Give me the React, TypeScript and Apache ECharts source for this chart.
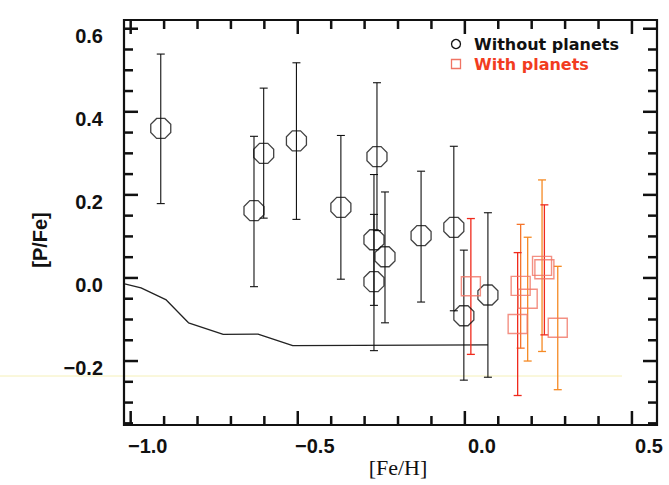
import React, { useEffect, useRef } from "react";
import * as echarts from "echarts";

// Stars without known planets
const noPlanetFeH = [-0.91, -0.631, -0.602, -0.504, -0.371, -0.263, -0.272, -0.272, -0.239, -0.131, -0.033, -0.003, 0.069];
const noPlanetPFe = [0.36, 0.162, 0.3, 0.33, 0.17, 0.292, 0.092, -0.009, 0.051, 0.102, 0.122, -0.091, -0.041];
const noPlanetLo = [0.179, -0.021, 0.144, 0.141, -0.003, 0.114, -0.066, -0.175, -0.108, -0.058, -0.079, -0.246, -0.239];
const noPlanetHi = [0.539, 0.341, 0.457, 0.518, 0.343, 0.47, 0.249, 0.153, 0.207, 0.257, 0.317, 0.067, 0.157];

// Planet-host stars
const planetFeH = [0.018, 0.167, 0.188, 0.158, 0.231, 0.238, 0.278];
const planetPFe = [-0.02, -0.019, -0.05, -0.111, 0.029, 0.021, -0.12];
const planetLo = [-0.184, -0.169, -0.2, -0.283, -0.177, -0.137, -0.269];
const planetHi = [0.143, 0.129, 0.098, 0.061, 0.236, 0.176, 0.028];

// Chemical evolution model curve
const modelFeH = [-1.018, -0.969, -0.895, -0.827, -0.723, -0.619, -0.515, 0.069];
const modelPFe = [-0.0145, -0.024, -0.052, -0.108, -0.136, -0.135, -0.163, -0.161];

// Tick marks (major ones carry labels)
const xMajorTicks = [-1.0, -0.5, 0.0, 0.5];
const xMinorTicks = [-1.0, -0.9, -0.8, -0.7, -0.6, -0.5, -0.4, -0.3, -0.2, -0.1, 0.0, 0.1, 0.2, 0.3, 0.4, 0.5];
const yMajorTicks = [-0.2, 0.0, 0.2, 0.4, 0.6];
const yMinorTicks = [-0.35, -0.3, -0.25, -0.2, -0.15, -0.1, -0.05, 0.0, 0.05, 0.1, 0.15, 0.2, 0.25, 0.3, 0.35, 0.4, 0.45, 0.5, 0.55, 0.6];

// Plot window
const X_MIN = -1.02;
const X_MAX = 0.575;
const Y_MIN = -0.354;
const Y_MAX = 0.621;

// Frame geometry (px)
const W = 669;
const H = 485;
const FRAME = { left: 124, right: 12, top: 20, bottom: 60 };
const plotW = W - FRAME.left - FRAME.right;
const plotH = H - FRAME.top - FRAME.bottom;
const xPx = (v: number) => FRAME.left + ((v - X_MIN) / (X_MAX - X_MIN)) * plotW;
const yPx = (v: number) => FRAME.top + ((Y_MAX - v) / (Y_MAX - Y_MIN)) * plotH;

const INK = "#111111";
const RED_BAR = ["#f02a1c", "#f5742a", "#f58a24", "#f02a1c", "#f58a24", "#f02a1c", "#f58a24"];
const RED_BOX = "#f07464";
const MAJOR_LEN = 14;
const MINOR_LEN = 9;
const TICK_W = 2.5;

const OCTAGON =
  "path://M1.383,0.076L1.924,0.617L1.924,1.383L1.383,1.924L0.617,1.924L0.076,1.383L0.076,0.617L0.617,0.076Z";

const fmt = (v: number) => {
  const s = Math.abs(v).toFixed(1);
  return v < -1e-9 ? "\u2212" + s : s;
};

const isMajor = (v: number, majors: number[]) => majors.some((m) => Math.abs(m - v) < 1e-9);

const tickFont = { fontFamily: "Liberation Sans", fontWeight: "bold" as const, fontSize: 20, color: INK };

function errorBars(getColor: (i: number) => string, lineWidth: number) {
  return (params: any, api: any) => {
    const x = api.value(0);
    const lo = api.value(1);
    const hi = api.value(2);
    const i = api.value(3);
    const top = api.coord([x, hi]);
    const bot = api.coord([x, lo]);
    const hw = 4;
    const style = { stroke: getColor(i), lineWidth };
    return {
      type: "group",
      children: [
        { type: "line", shape: { x1: top[0], y1: top[1], x2: bot[0], y2: bot[1] }, style },
        { type: "line", shape: { x1: top[0] - hw, y1: top[1], x2: top[0] + hw, y2: top[1] }, style },
        { type: "line", shape: { x1: bot[0] - hw, y1: bot[1], x2: bot[0] + hw, y2: bot[1] }, style },
      ],
    };
  };
}

// Inward tick marks on all four edges, as thin filled bars
function buildTicks(): any[] {
  const els: any[] = [];
  const x0 = xPx(X_MIN);
  const x1 = xPx(X_MAX);
  const y0 = yPx(Y_MIN);
  const y1 = yPx(Y_MAX);
  xMinorTicks.forEach((v) => {
    const len = isMajor(v, xMajorTicks) ? MAJOR_LEN : MINOR_LEN;
    const x = xPx(v) - TICK_W / 2;
    els.push({ type: "rect", z: 100, silent: true, shape: { x, y: y0 - len, width: TICK_W, height: len }, style: { fill: INK } });
    els.push({ type: "rect", z: 100, silent: true, shape: { x, y: y1, width: TICK_W, height: len }, style: { fill: INK } });
  });
  yMinorTicks.forEach((v) => {
    const len = isMajor(v, yMajorTicks) ? MAJOR_LEN : MINOR_LEN;
    const y = yPx(v) - TICK_W / 2;
    els.push({ type: "rect", z: 100, silent: true, shape: { x: x0, y, width: len, height: TICK_W }, style: { fill: INK } });
    els.push({ type: "rect", z: 100, silent: true, shape: { x: x1 - len, y, width: len, height: TICK_W }, style: { fill: INK } });
  });
  return els;
}

export default function App() {
  const ref = useRef<HTMLDivElement>(null);

  useEffect(() => {
    if (!ref.current) return;
    const chart = echarts.init(ref.current, undefined, { renderer: "svg" });

    const noPlanetPts = noPlanetFeH.map((x, i) => [x, noPlanetPFe[i]]);
    const noPlanetErr = noPlanetFeH.map((x, i) => [x, noPlanetLo[i], noPlanetHi[i], i]);
    const planetPts = planetFeH.map((x, i) => [x, planetPFe[i]]);
    const planetErr = planetFeH.map((x, i) => [x, planetLo[i], planetHi[i], i]);
    const modelPts = modelFeH.map((x, i) => [x, modelPFe[i]]);

    // Label grids share the frame's scale but span only the labelled range
    const gridMain = { ...FRAME, show: true, borderColor: INK, borderWidth: 2.2, backgroundColor: "transparent" };
    const gridX = {
      left: xPx(xMajorTicks[0]),
      right: W - xPx(xMajorTicks[xMajorTicks.length - 1]),
      top: FRAME.top,
      bottom: FRAME.bottom,
    };
    const gridY = {
      left: FRAME.left,
      right: FRAME.right,
      top: yPx(yMajorTicks[yMajorTicks.length - 1]),
      bottom: H - yPx(yMajorTicks[0]),
    };

    chart.setOption({
      animation: false,
      backgroundColor: "#ffffff",
      grid: [gridMain, gridX, gridY],
      xAxis: [
        { type: "value", gridIndex: 0, min: X_MIN, max: X_MAX, show: false },
        {
          type: "value",
          gridIndex: 1,
          position: "bottom",
          min: xMajorTicks[0],
          max: xMajorTicks[xMajorTicks.length - 1],
          interval: 0.5,
          splitLine: { show: false },
          axisLine: { show: false, onZero: false },
          axisTick: { show: false },
          axisLabel: { show: true, formatter: fmt, margin: 11, padding: [0, 0, 0, 34], ...tickFont },
        },
        { type: "value", gridIndex: 2, show: false, min: 0, max: 1 },
      ],
      yAxis: [
        { type: "value", gridIndex: 0, min: Y_MIN, max: Y_MAX, show: false },
        { type: "value", gridIndex: 1, show: false, min: 0, max: 1 },
        {
          type: "value",
          gridIndex: 2,
          position: "left",
          min: yMajorTicks[0],
          max: yMajorTicks[yMajorTicks.length - 1],
          interval: 0.2,
          splitLine: { show: false },
          axisLine: { show: false, onZero: false },
          axisTick: { show: false },
          axisLabel: { show: true, formatter: fmt, margin: 21, verticalAlign: "top", lineHeight: 14, ...tickFont },
        },
      ],
      graphic: [
        {
          type: "line",
          z: -10,
          silent: true,
          shape: { x1: 0, y1: 376, x2: 622, y2: 376 },
          style: { stroke: "#f5f0b8", lineWidth: 1 },
        },
        {
          type: "text",
          x: 398,
          y: 467,
          style: { text: "[Fe/H]", font: '22px "Liberation Serif"', fill: INK, align: "center", verticalAlign: "middle" },
        },
        {
          type: "text",
          x: 40,
          y: 240,
          rotation: Math.PI / 2,
          style: { text: "[P/Fe]", font: 'bold 20px "Liberation Sans"', fill: INK, align: "center", verticalAlign: "middle" },
        },
        {
          type: "circle",
          shape: { cx: 456, cy: 44, r: 4.5 },
          style: { fill: "none", stroke: INK, lineWidth: 1.3 },
        },
        {
          type: "text",
          x: 474,
          y: 44,
          style: { text: "Without planets", font: 'bold 16px "DejaVu Sans"', fill: INK, verticalAlign: "middle" },
        },
        {
          type: "rect",
          shape: { x: 451.5, y: 59.5, width: 9, height: 9 },
          style: { fill: "none", stroke: RED_BOX, lineWidth: 1.3 },
        },
        {
          type: "text",
          x: 474,
          y: 64,
          style: { text: "With planets", font: 'bold 16px "DejaVu Sans"', fill: "#f23c1f", verticalAlign: "middle" },
        },
        ...buildTicks(),
      ],
      series: [
        {
          name: "Model",
          type: "line",
          xAxisIndex: 0,
          yAxisIndex: 0,
          data: modelPts,
          showSymbol: false,
          lineStyle: { color: "#222222", width: 1.3 },
          z: 1,
        },
        {
          name: "Without planets err",
          type: "custom",
          xAxisIndex: 0,
          yAxisIndex: 0,
          data: noPlanetErr,
          renderItem: errorBars(() => INK, 1.1),
          encode: { x: 0, y: [1, 2] },
          z: 2,
        },
        {
          name: "With planets err",
          type: "custom",
          xAxisIndex: 0,
          yAxisIndex: 0,
          data: planetErr,
          renderItem: errorBars((i) => RED_BAR[i % RED_BAR.length], 1.3),
          encode: { x: 0, y: [1, 2] },
          z: 2,
        },
        {
          name: "Without planets",
          type: "scatter",
          xAxisIndex: 0,
          yAxisIndex: 0,
          data: noPlanetPts,
          symbol: OCTAGON,
          symbolSize: 20,
          itemStyle: { color: "rgba(0,0,0,0)", borderColor: INK, borderWidth: 1.3 },
          z: 3,
        },
        {
          name: "With planets",
          type: "scatter",
          xAxisIndex: 0,
          yAxisIndex: 0,
          data: planetPts,
          symbol: "rect",
          symbolSize: 19,
          itemStyle: { color: "rgba(0,0,0,0)", borderColor: RED_BOX, borderWidth: 1.4 },
          z: 3,
        },
      ],
    });

    return () => chart.dispose();
  }, []);

  return (
    <div
      ref={ref}
      style={{ position: "absolute", left: 0, top: 0, width: W, height: H, background: "#fff" }}
    />
  );
}
